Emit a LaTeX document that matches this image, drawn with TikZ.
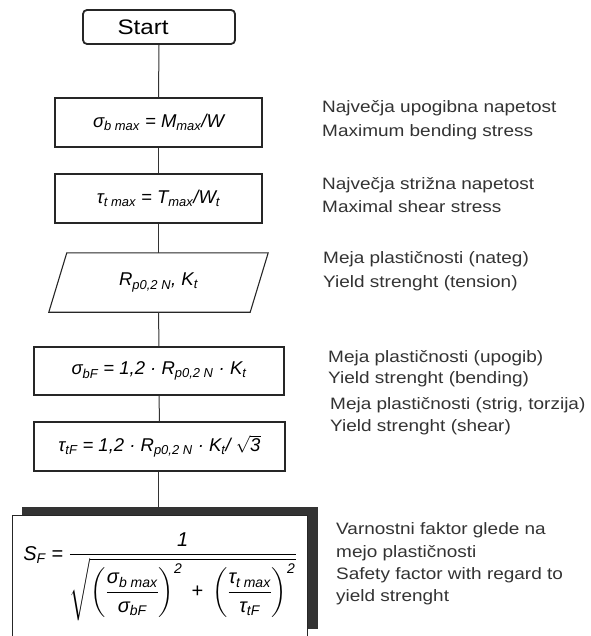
\documentclass[tikz,border=0pt]{standalone}
\usepackage{amsmath}
\usepackage{fontspec}
\setmainfont{Liberation Sans}
\newfontfamily\labfont[FakeStretch=1.15]{Liberation Sans}
\newfontfamily\frmfont{Liberation Sans}
\newcommand{\tx}[1]{\text{#1}}
\usetikzlibrary{calc}
\begin{document}
\begin{tikzpicture}[x=1pt,y=-1pt,
  box/.style={draw=black!85, line width=1.1pt, inner sep=0pt, rectangle},
  frm/.style={font=\frmfont\itshape\fontsize{18.5}{22}\selectfont},
  lab/.style={font=\labfont\fontsize{16.5}{#1}\selectfont, align=left, inner sep=0pt, text=black!80, anchor=west},
  conn/.style={draw=black!80, line width=1pt}]
\useasboundingbox (0,0) rectangle (590,636);
% flowchart
\node[box, line width=1.8pt, rounded corners=4pt, minimum width=152pt, minimum height=34pt,
  font=\labfont\fontsize{21}{24}\selectfont] (start) at (159,27) {Start\kern32pt\relax};
\node[box, frm, minimum width=207pt, minimum height=49pt] (b1) at (158.5,122.5)
  {$\tx{σ}_{\tx{b max}}\tx{ = M}_{\tx{max}}\tx{/W}$};
\node[box, frm, minimum width=207pt, minimum height=49pt] (b2) at (158.5,198.5)
  {$\tx{τ}_{\tx{t max}}\tx{ = T}_{\tx{max}}\tx{/W}_{\tx{t}}$};
\node[frm, inner sep=0pt, minimum width=201pt, minimum height=59pt] (par) at (158.5,282.5)
  {$\tx{R}_{\tx{p0,2 N}}\tx{, K}_{\tx{t}}$};
\draw[black!85, line width=1.1pt] ($(par.north west)+(9,0)$) -- ($(par.north east)+(9,0)$)
  -- ($(par.south east)+(-9,0)$) -- ($(par.south west)+(-9,0)$) -- cycle;
\node[box, frm, minimum width=250pt, minimum height=48pt] (b3) at (159,371)
  {$\tx{σ}_{\tx{bF}}\tx{ = 1,2 · R}_{\tx{p0,2 N}}\tx{ · K}_{\tx{t}}$};
\node[box, frm, minimum width=251pt, minimum height=49pt] (b4) at (159.5,446.5)
  {$\tx{τ}_{\tx{tF}}\tx{ = 1,2 · R}_{\tx{p0,2 N}}\tx{ · K}_{\tx{t}}\tx{/ }\sqrt{\tx{3}}$};
% final box with shadow
\node[fill=black!80, inner sep=0pt, minimum width=296pt, minimum height=122pt, anchor=north west]
  (shadow) at (22,507) {};
\node[box, fill=white, font=\frmfont\itshape\fontsize{20}{23}\selectfont,
  minimum width=295pt, minimum height=122pt, anchor=north west]
  (sf) at (12,515)
  {$\displaystyle \tx{S}_{\tx{F}}\tx{ = }\frac{\tx{1}}{\sqrt{\left(\dfrac{\tx{σ}_{\tx{b max}}}{\tx{σ}_{\tx{bF}}}\right)^{\tx{2}}\tx{ + }\left(\dfrac{\tx{τ}_{\tx{t max}}}{\tx{τ}_{\tx{tF}}}\right)^{\tx{2}}}}$};
\coordinate (sftop) at (158.5,507);
% connectors
\draw[conn] (start.south) -- (b1.north);
\draw[conn] (b1.south) -- (b2.north);
\draw[conn] (b2.south) -- (par.north);
\draw[conn] (par.south) -- (b3.north);
\draw[conn] (b3.south) -- (b4.north);
\draw[conn] (b4.south -| sftop) -- (sftop);
% descriptions
\node[lab=24] (d1) at (322,120) {Največja upogibna napetost\\Maximum bending stress};
\node[lab=23] (d2) at (322,195) {Največja strižna napetost\\Maximal shear stress};
\node[lab=24] (d3) at (323,271.5) {Meja plastičnosti (nateg)\\Yield strenght (tension)};
\node[lab=21] (d4) at (328,369) {Meja plastičnosti (upogib)\\Yield strenght (bending)};
\node[lab=22] (d5) at (330,416) {Meja plastičnosti (strig, torzija)\\Yield strenght (shear)};
\node[lab=22.3] (d6) at (336,564) {Varnostni faktor glede na\\mejo plastičnosti\\Safety factor with regard to\\yield strenght};
\end{tikzpicture}
\end{document}
